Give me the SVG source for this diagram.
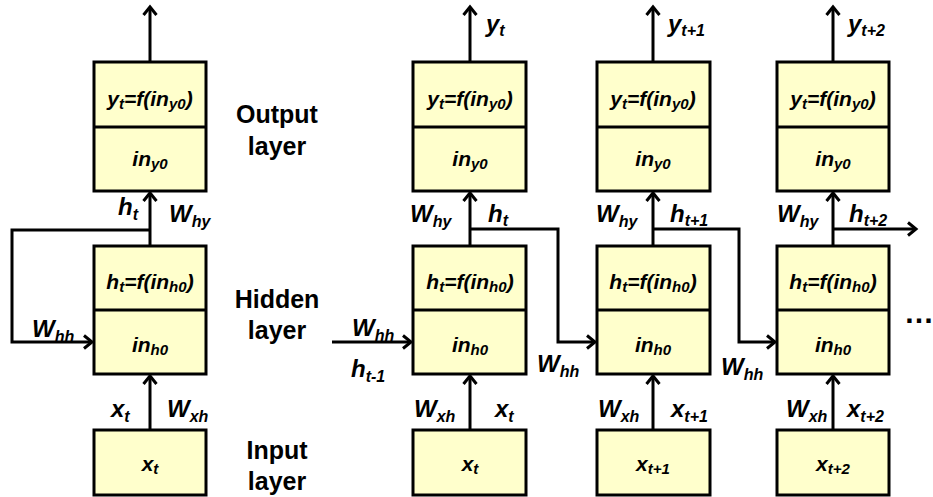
<svg xmlns="http://www.w3.org/2000/svg" width="933" height="497" viewBox="0 0 933 497">
<style>
.box{fill:#FFFFCC;stroke:#000;stroke-width:3}
.ln{fill:none;stroke:#000;stroke-width:3}
text{font-family:"Liberation Sans",Arial,sans-serif;font-weight:bold;fill:#000}
.bt{font-size:21px;font-style:italic;text-anchor:middle}
.lb{font-size:24px;font-style:italic}
.s{font-size:15px}
.ls{font-size:16px}
.ly{font-size:25px;font-style:normal;text-anchor:middle}
</style>
<defs>
<marker id="ah" markerUnits="userSpaceOnUse" markerWidth="16" markerHeight="16" refX="9" refY="8" orient="auto" overflow="visible">
<path d="M1,1.5 L9,8 L1,14.5" fill="none" stroke="#000" stroke-width="3"/>
</marker>
</defs>

<g id="connectors">
<line class="ln" x1="150" y1="62" x2="150" y2="7" marker-end="url(#ah)"/>
<line class="ln" x1="150" y1="246" x2="150" y2="193" marker-end="url(#ah)"/>
<line class="ln" x1="150" y1="430" x2="150" y2="376" marker-end="url(#ah)"/>
<polyline class="ln" points="150,230 12,230 12,342 92,342" marker-end="url(#ah)"/>

<line class="ln" x1="470" y1="62" x2="470" y2="7" marker-end="url(#ah)"/>
<line class="ln" x1="470" y1="246" x2="470" y2="193" marker-end="url(#ah)"/>
<line class="ln" x1="470" y1="430" x2="470" y2="376" marker-end="url(#ah)"/>
<line class="ln" x1="332" y1="342" x2="411" y2="342" marker-end="url(#ah)"/>
<polyline class="ln" points="470,229 558,229 558,342 595,342" marker-end="url(#ah)"/>

<line class="ln" x1="653" y1="62" x2="653" y2="7" marker-end="url(#ah)"/>
<line class="ln" x1="653" y1="246" x2="653" y2="193" marker-end="url(#ah)"/>
<line class="ln" x1="653" y1="430" x2="653" y2="376" marker-end="url(#ah)"/>
<polyline class="ln" points="653,229 739,229 739,342 775,342" marker-end="url(#ah)"/>

<line class="ln" x1="833" y1="62" x2="833" y2="7" marker-end="url(#ah)"/>
<line class="ln" x1="833" y1="246" x2="833" y2="193" marker-end="url(#ah)"/>
<line class="ln" x1="833" y1="430" x2="833" y2="376" marker-end="url(#ah)"/>
<line class="ln" x1="833" y1="229" x2="916" y2="229" marker-end="url(#ah)"/>
</g>

<g id="out0">
<rect class="box" x="94" y="62" width="112" height="129"/>
<line class="ln" x1="94" y1="127" x2="206" y2="127"/>
<text class="bt" x="150" y="106">y<tspan class="s" dy="3">t</tspan><tspan dy="-3">=f(in</tspan><tspan class="s" dy="3">y0</tspan><tspan dy="-3">)</tspan></text>
<text class="bt" x="150" y="166">in<tspan class="s" dy="3">y0</tspan></text>
</g>
<g id="hid0">
<rect class="box" x="94" y="246" width="112" height="128"/>
<line class="ln" x1="94" y1="310" x2="206" y2="310"/>
<text class="bt" x="150" y="289">h<tspan class="s" dy="3">t</tspan><tspan dy="-3">=f(in</tspan><tspan class="s" dy="3">h0</tspan><tspan dy="-3">)</tspan></text>
<text class="bt" x="150" y="352">in<tspan class="s" dy="3">h0</tspan></text>
</g>
<g id="in0">
<rect class="box" x="94" y="430" width="112" height="65"/>
<text class="bt" x="150" y="471">x<tspan class="s" dy="3">t</tspan></text>
</g>

<g id="out1">
<rect class="box" x="413" y="62" width="113" height="129"/>
<line class="ln" x1="413" y1="127" x2="526" y2="127"/>
<text class="bt" x="470" y="106">y<tspan class="s" dy="3">t</tspan><tspan dy="-3">=f(in</tspan><tspan class="s" dy="3">y0</tspan><tspan dy="-3">)</tspan></text>
<text class="bt" x="470" y="166">in<tspan class="s" dy="3">y0</tspan></text>
</g>
<g id="hid1">
<rect class="box" x="413" y="246" width="113" height="128"/>
<line class="ln" x1="413" y1="310" x2="526" y2="310"/>
<text class="bt" x="470" y="289">h<tspan class="s" dy="3">t</tspan><tspan dy="-3">=f(in</tspan><tspan class="s" dy="3">h0</tspan><tspan dy="-3">)</tspan></text>
<text class="bt" x="470" y="352">in<tspan class="s" dy="3">h0</tspan></text>
</g>
<g id="in1">
<rect class="box" x="413" y="430" width="113" height="65"/>
<text class="bt" x="470" y="471">x<tspan class="s" dy="3">t</tspan></text>
</g>

<g id="out2">
<rect class="box" x="597" y="62" width="113" height="129"/>
<line class="ln" x1="597" y1="127" x2="710" y2="127"/>
<text class="bt" x="653" y="106">y<tspan class="s" dy="3">t</tspan><tspan dy="-3">=f(in</tspan><tspan class="s" dy="3">y0</tspan><tspan dy="-3">)</tspan></text>
<text class="bt" x="653" y="166">in<tspan class="s" dy="3">y0</tspan></text>
</g>
<g id="hid2">
<rect class="box" x="597" y="246" width="113" height="128"/>
<line class="ln" x1="597" y1="310" x2="710" y2="310"/>
<text class="bt" x="653" y="289">h<tspan class="s" dy="3">t</tspan><tspan dy="-3">=f(in</tspan><tspan class="s" dy="3">h0</tspan><tspan dy="-3">)</tspan></text>
<text class="bt" x="653" y="352">in<tspan class="s" dy="3">h0</tspan></text>
</g>
<g id="in2">
<rect class="box" x="597" y="430" width="113" height="65"/>
<text class="bt" x="653" y="471">x<tspan class="s" dy="3">t+1</tspan></text>
</g>

<g id="out3">
<rect class="box" x="777" y="62" width="112" height="129"/>
<line class="ln" x1="777" y1="127" x2="889" y2="127"/>
<text class="bt" x="833" y="106">y<tspan class="s" dy="3">t</tspan><tspan dy="-3">=f(in</tspan><tspan class="s" dy="3">y0</tspan><tspan dy="-3">)</tspan></text>
<text class="bt" x="833" y="166">in<tspan class="s" dy="3">y0</tspan></text>
</g>
<g id="hid3">
<rect class="box" x="777" y="246" width="112" height="128"/>
<line class="ln" x1="777" y1="310" x2="889" y2="310"/>
<text class="bt" x="833" y="289">h<tspan class="s" dy="3">t</tspan><tspan dy="-3">=f(in</tspan><tspan class="s" dy="3">h0</tspan><tspan dy="-3">)</tspan></text>
<text class="bt" x="833" y="352">in<tspan class="s" dy="3">h0</tspan></text>
</g>
<g id="in3">
<rect class="box" x="777" y="430" width="112" height="65"/>
<text class="bt" x="833" y="471">x<tspan class="s" dy="3">t+2</tspan></text>
</g>

<g id="layer-labels">
<text class="ly" x="277" y="123">Output</text>
<text class="ly" x="277" y="155">layer</text>
<text class="ly" x="277" y="308">Hidden</text>
<text class="ly" x="277" y="339">layer</text>
<text class="ly" x="277" y="459">Input</text>
<text class="ly" x="277" y="490">layer</text>
</g>

<g id="labels">
<text class="lb" x="118" y="215">h<tspan class="ls" dy="5">t</tspan></text>
<text class="lb" x="169" y="222">W<tspan class="ls" dy="5">hy</tspan></text>
<text class="lb" x="32" y="337">W<tspan class="ls" dy="5">hh</tspan></text>
<text class="lb" x="111" y="417">x<tspan class="ls" dy="5">t</tspan></text>
<text class="lb" x="167" y="417">W<tspan class="ls" dy="5">xh</tspan></text>

<text class="lb" x="486" y="32">y<tspan class="ls" dy="4">t</tspan></text>
<text class="lb" x="410" y="222">W<tspan class="ls" dy="5">hy</tspan></text>
<text class="lb" x="488" y="222">h<tspan class="ls" dy="4">t</tspan></text>
<text class="lb" x="352" y="336">W<tspan class="ls" dy="5">hh</tspan></text>
<text class="lb" x="351" y="377">h<tspan class="ls" dy="5">t-1</tspan></text>
<text class="lb" x="414" y="417">W<tspan class="ls" dy="5">xh</tspan></text>
<text class="lb" x="495" y="417">x<tspan class="ls" dy="5">t</tspan></text>
<text class="lb" x="537" y="372">W<tspan class="ls" dy="5">hh</tspan></text>

<text class="lb" x="668" y="32">y<tspan class="ls" dy="4">t+1</tspan></text>
<text class="lb" x="596" y="222">W<tspan class="ls" dy="5">hy</tspan></text>
<text class="lb" x="670" y="222">h<tspan class="ls" dy="4">t+1</tspan></text>
<text class="lb" x="598" y="417">W<tspan class="ls" dy="5">xh</tspan></text>
<text class="lb" x="671" y="417">x<tspan class="ls" dy="5">t+1</tspan></text>
<text class="lb" x="721" y="375">W<tspan class="ls" dy="5">hh</tspan></text>

<text class="lb" x="848" y="32">y<tspan class="ls" dy="4">t+2</tspan></text>
<text class="lb" x="777" y="222">W<tspan class="ls" dy="5">hy</tspan></text>
<text class="lb" x="849" y="222">h<tspan class="ls" dy="4">t+2</tspan></text>
<text class="lb" x="786" y="417">W<tspan class="ls" dy="5">xh</tspan></text>
<text class="lb" x="847" y="417">x<tspan class="ls" dy="5">t+2</tspan></text>

<text x="904" y="323" font-size="30">…</text>
</g>
</svg>
